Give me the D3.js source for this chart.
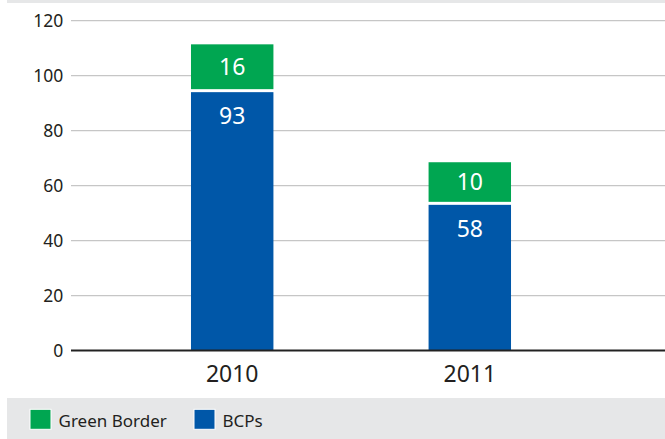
<!DOCTYPE html>
<html><head><meta charset="utf-8">
<script src="https://cdn.jsdelivr.net/npm/d3@7"></script>
<style>body{margin:0;background:#fff}svg{display:block}text{font-family:"Noto Sans","Open Sans",sans-serif}</style>
</head><body><svg id="c" width="665" height="439"></svg>
<script>
const categories = ["2010", "2011"];
const bcps = [94, 53];
const greenBorder = [17.4, 15.5];
const bcpsLabels = ["93", "58"];
const greenLabels = ["16", "10"];
const yTicks = [0, 20, 40, 60, 80, 100, 120];
const legendItems = ["Green Border", "BCPs"];

const GREEN = "#00a651", BLUE = "#0057a8", INK = "#231f20";
const svg = d3.select("#c");
svg.append("rect").attr("x", 7).attr("y", 0).attr("width", 658).attr("height", 3).attr("fill", "#e6e7e8");

const y = d3.scaleLinear().domain([0, 120]).range([350.5, 20.7]);
const x = d3.scaleBand().domain(categories).range([71, 631]).paddingInner(0.653).paddingOuter(0.505);

// gridlines
svg.append("g").selectAll("line").data(yTicks.filter(d => d > 0)).join("line")
  .attr("x1", 71).attr("x2", 665).attr("y1", d => y(d)).attr("y2", d => y(d))
  .attr("stroke", "#c6c6c6").attr("stroke-width", 1.2);

// y axis labels
const yAxis = d3.axisLeft(y).tickValues(yTicks).tickSize(0).tickPadding(7.7);
const gy = svg.append("g").attr("transform", "translate(71,0)").call(yAxis);
gy.select(".domain").remove();
gy.selectAll("text").attr("font-size", 17.5).attr("fill", INK).attr("dy", "0.35em");

// bars
const gap = 3;
const bars = svg.append("g");
categories.forEach((c, i) => {
  bars.append("rect").attr("x", x(c)).attr("width", x.bandwidth())
    .attr("y", y(bcps[i])).attr("height", y(0) - y(bcps[i])).attr("fill", BLUE);
  const top = y(bcps[i] + greenBorder[i]);
  bars.append("rect").attr("x", x(c)).attr("width", x.bandwidth())
    .attr("y", top).attr("height", y(bcps[i]) - gap - top).attr("fill", GREEN);
  const cx = x(c) + x.bandwidth() / 2;
  bars.append("text").attr("x", cx).attr("y", (top + y(bcps[i]) - gap) / 2 + 8.3)
    .attr("text-anchor", "middle").attr("fill", "#fff").attr("font-size", 23).text(greenLabels[i]);
  bars.append("text").attr("x", cx).attr("y", y(bcps[i]) + 24 + 8.3)
    .attr("text-anchor", "middle").attr("fill", "#fff").attr("font-size", 23).text(bcpsLabels[i]);
});

// x axis line
svg.append("line").attr("x1", 71).attr("x2", 665).attr("y1", y(0)).attr("y2", y(0))
  .attr("stroke", "#222").attr("stroke-width", 2.2);
const xAxis = d3.axisBottom(x).tickSize(0);
const gx = svg.append("g").attr("transform", `translate(0,${y(0)})`).call(xAxis);
gx.select(".domain").remove();
gx.selectAll("text").attr("font-size", 23).attr("fill", INK).attr("y", 31.2).attr("dy", 0);

// legend
svg.append("rect").attr("x", 7).attr("y", 398).attr("width", 658).attr("height", 41).attr("fill", "#e6e7e8");
const lx = [30, 194];
const lc = [GREEN, BLUE];
legendItems.forEach((t, i) => {
  svg.append("rect").attr("x", lx[i]).attr("y", 409.3).attr("width", 21).attr("height", 20)
    .attr("fill", lc[i]).attr("stroke", "#fff").attr("stroke-width", 1);
  svg.append("text").attr("x", lx[i] + 28.5).attr("y", 426.7)
    .attr("font-size", 17).attr("fill", INK).text(t);
});
</script></body></html>
